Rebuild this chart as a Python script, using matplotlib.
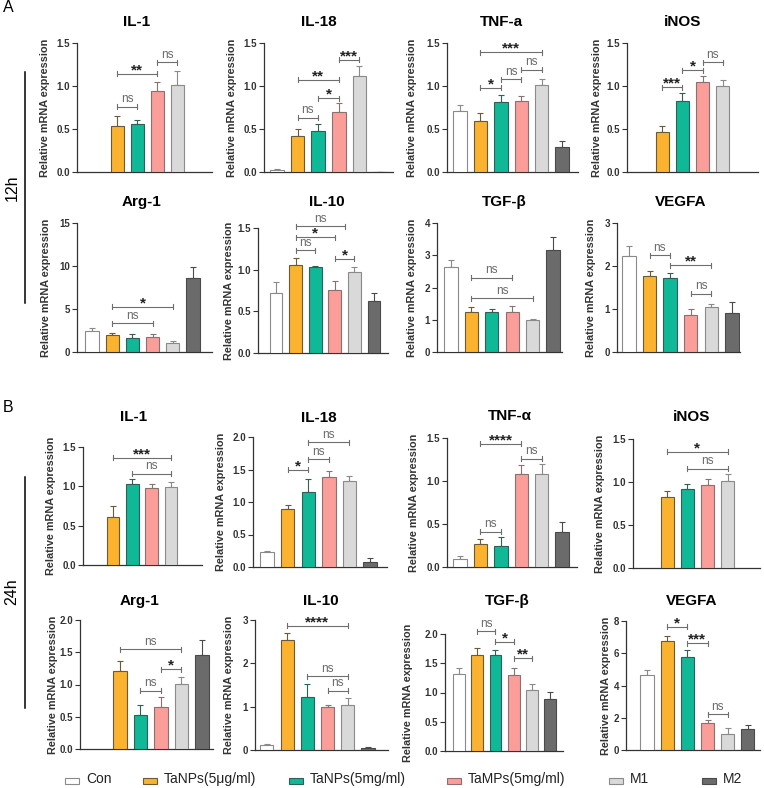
import matplotlib
matplotlib.use('Agg')
import matplotlib.pyplot as plt
from matplotlib.patches import Rectangle
from matplotlib.lines import Line2D
import numpy as np

plt.rcParams['font.family'] = ['Liberation Sans', 'DejaVu Sans']

W, H = 764, 788
nan = np.nan

groups = ['Con', 'TaNPs(5μg/ml)', 'TaNPs(5mg/ml)', 'TaMPs(5mg/ml)', 'M1', 'M2']
colors = ['#ffffff', '#fbb22f', '#0fb897', '#fb9e9a', '#d9d9d9', '#6b6b6b']
edges = ['#8a8a8a', '#6a5a36', '#2f5f55', '#8a7070', '#8a8a8a', '#4a4a4a']

# ---- 12h ----
a_il1_mean = [nan, 0.54, 0.56, 0.94, 1.01, nan]
a_il1_err = [0, 0.11, 0.05, 0.11, 0.17, 0]
a_il1_sig = [(1, 2, 0.756, 'ns'), (1, 3, 1.143, '**'), (3, 4, 1.279, 'ns')]

a_il18_mean = [0.02, 0.42, 0.48, 0.70, 1.12, 0.005]
a_il18_err = [0.01, 0.08, 0.08, 0.10, 0.11, 0]
a_il18_sig = [(1, 2, 0.628, 'ns'), (2, 3, 0.86, '*'), (1, 3, 1.07, '**'), (3, 4, 1.306, '***')]

a_tnf_mean = [0.71, 0.59, 0.81, 0.83, 1.01, 0.29]
a_tnf_err = [0.07, 0.10, 0.09, 0.05, 0.07, 0.07]
a_tnf_sig = [(1, 2, 0.977, '*'), (2, 3, 1.078, 'ns'), (3, 4, 1.19, 'ns'), (1, 4, 1.395, '***')]

a_inos_mean = [nan, 0.465, 0.83, 1.05, 1.00, nan]
a_inos_err = [0, 0.07, 0.09, 0.07, 0.07, 0]
a_inos_sig = [(1, 2, 0.988, '***'), (2, 3, 1.182, '*'), (3, 4, 1.279, 'ns')]

a_arg1_mean = [2.48, 1.94, 1.63, 1.71, 1.01, 8.60]
a_arg1_err = [0.27, 0.23, 0.46, 0.42, 0.23, 1.24]
a_arg1_sig = [(1, 3, 3.33, 'ns'), (1, 4, 5.27, '*')]

a_il10_mean = [0.716, 1.058, 1.029, 0.76, 0.969, 0.627]
a_il10_err = [0.133, 0.084, 0.02, 0.109, 0.065, 0.089]
a_il10_sig = [(3, 4, 1.13, '*'), (1, 2, 1.235, 'ns'), (1, 3, 1.39, '*'), (1, 3.5, 1.524, 'ns')]

a_tgf_mean = [2.625, 1.23, 1.24, 1.25, 0.99, 3.17]
a_tgf_err = [0.24, 0.18, 0.08, 0.19, 0.03, 0.41]
a_tgf_sig = [(1, 3, 2.295, 'ns'), (1, 4, 1.664, 'ns')]

a_vegfa_mean = [2.24, 1.767, 1.729, 0.853, 1.039, 0.915]
a_vegfa_err = [0.217, 0.109, 0.10, 0.147, 0.077, 0.248]
a_vegfa_sig = [(1, 2, 2.248, 'ns'), (2, 4, 2.016, '**'), (3, 4, 1.357, 'ns')]

# ---- 24h ----
b_il1_mean = [nan, 0.613, 1.027, 0.976, 0.997, nan]
b_il1_err = [0, 0.135, 0.067, 0.055, 0.055, 0]
b_il1_sig = [(2, 4, 1.162, 'ns'), (1, 4, 1.361, '***')]

b_il18_mean = [0.23, 0.888, 1.153, 1.378, 1.327, 0.082]
b_il18_err = [0.015, 0.071, 0.194, 0.096, 0.066, 0.051]
b_il18_sig = [(1, 2, 1.5, '*'), (2, 3, 1.658, 'ns'), (2, 4, 1.923, 'ns')]

b_tnf_mean = [0.097, 0.264, 0.248, 1.081, 1.081, 0.407]
b_tnf_err = [0.035, 0.065, 0.105, 0.101, 0.121, 0.116]
b_tnf_sig = [(1, 2, 0.411, 'ns'), (3, 4, 1.26, 'ns'), (1, 3, 1.434, '****')]

b_inos_mean = [nan, 0.823, 0.916, 0.963, 1.009, nan]
b_inos_err = [0, 0.07, 0.066, 0.077, 0.081, 0]
b_inos_sig = [(2, 4, 1.156, 'ns'), (1, 4, 1.353, '*')]

b_arg1_mean = [nan, 1.216, 0.526, 0.649, 1.005, 1.464]
b_arg1_err = [0, 0.145, 0.154, 0.15, 0.119, 0.227]
b_arg1_sig = [(2, 3, 0.902, 'ns'), (3, 4, 1.237, '*'), (1, 4, 1.546, 'ns')]

b_il10_mean = [0.115, 2.538, 1.215, 0.992, 1.046, 0.046]
b_il10_err = [0.015, 0.17, 0.30, 0.038, 0.146, 0.014]
b_il10_sig = [(3, 4, 1.362, 'ns'), (2, 4, 1.70, 'ns'), (1, 4, 2.869, '****')]

b_tgf_mean = [1.324, 1.633, 1.633, 1.301, 1.037, 0.883]
b_tgf_err = [0.097, 0.121, 0.092, 0.12, 0.103, 0.131]
b_tgf_sig = [(3, 4, 1.582, '**'), (2, 3, 1.868, '*'), (1, 2, 2.046, 'ns')]

b_vegfa_mean = [4.63, 6.76, 5.77, 1.674, 1.013, 1.302]
b_vegfa_err = [0.35, 0.29, 0.43, 0.186, 0.331, 0.228]
b_vegfa_sig = [(3, 4, 2.23, 'ns'), (2, 3, 6.615, '***'), (1, 2, 7.628, '*')]

t_15 = [0, 0.5, 1.0, 1.5]
t_20 = [0, 0.5, 1.0, 1.5, 2.0]

panels = [
    ('IL-1', a_il1_mean, a_il1_err, a_il1_sig, t_15),
    ('IL-18', a_il18_mean, a_il18_err, a_il18_sig, t_15),
    ('TNF-a', a_tnf_mean, a_tnf_err, a_tnf_sig, t_15),
    ('iNOS', a_inos_mean, a_inos_err, a_inos_sig, t_15),
    ('Arg-1', a_arg1_mean, a_arg1_err, a_arg1_sig, [0, 5, 10, 15]),
    ('IL-10', a_il10_mean, a_il10_err, a_il10_sig, t_15),
    ('TGF-β', a_tgf_mean, a_tgf_err, a_tgf_sig, [0, 1, 2, 3, 4]),
    ('VEGFA', a_vegfa_mean, a_vegfa_err, a_vegfa_sig, [0, 1, 2, 3]),
    ('IL-1', b_il1_mean, b_il1_err, b_il1_sig, t_15),
    ('IL-18', b_il18_mean, b_il18_err, b_il18_sig, t_20),
    ('TNF-α', b_tnf_mean, b_tnf_err, b_tnf_sig, t_15),
    ('iNOS', b_inos_mean, b_inos_err, b_inos_sig, t_15),
    ('Arg-1', b_arg1_mean, b_arg1_err, b_arg1_sig, t_20),
    ('IL-10', b_il10_mean, b_il10_err, b_il10_sig, [0, 1, 2, 3]),
    ('TGF-β', b_tgf_mean, b_tgf_err, b_tgf_sig, t_20),
    ('VEGFA', b_vegfa_mean, b_vegfa_err, b_vegfa_sig, [0, 2, 4, 6, 8]),
]

# layout in pixels: left, right, top, bottom, xlim, title x/y, ylabel x
layout = [
    (77, 212, 43, 172, (-1.0, 5.75), 137, 22, 50),
    (264, 393, 43, 172, (-0.63, 5.63), 319, 22, 237),
    (447, 578, 43, 172, (-0.64, 5.78), 501, 22, 417),
    (627, 758, 43, 172, (-0.74, 5.74), 683, 22, 602),
    (77, 212, 223, 352, (-0.74, 5.94), 141, 202, 51),
    (258, 388, 228, 353, (-0.92, 5.71), 327, 202, 234),
    (437, 562, 223, 352, (-0.69, 5.44), 504, 202, 417),
    (617, 740, 223, 352, (-0.58, 5.39), 681, 202, 596),
    (83, 202, 447, 565, (-0.57, 5.62), 134, 417, 56),
    (253, 387, 437, 567, (-0.68, 5.82), 319, 418, 226),
    (447, 577, 438, 567, (-0.64, 5.73), 510, 416, 419),
    (633, 760, 439, 568, (-0.69, 5.6), 692, 417, 605),
    (80, 213, 620, 749, (-0.95, 5.54), 139, 601, 58),
    (255, 388, 620, 750, (-0.59, 5.99), 321, 601, 234),
    (445, 563, 634, 751, (-0.77, 5.71), 507, 601, 413),
    (626, 760, 621, 750, (-1.04, 5.6), 692, 601, 611),
]

fig = plt.figure(figsize=(W / 100, H / 100), dpi=100)

for (title, mean, err, sig, ticks), (l, r, t, b, xl, tx, ty, lx) in zip(panels, layout):
    ax = fig.add_axes([l / W, 1 - b / H, (r - l) / W, (b - t) / H])
    ymax = ticks[-1]
    px = ymax / (b - t)  # data units per pixel
    for i, (mv, ev) in enumerate(zip(mean, err)):
        if np.isnan(mv):
            continue
        ax.errorbar([i], [mv], yerr=[[0], [ev]], fmt='none', ecolor=edges[i],
                    elinewidth=0.8, capsize=2.5, capthick=0.8, zorder=2)
        ax.bar([i], [mv], width=0.65, color=colors[i], edgecolor=edges[i],
               linewidth=0.8, zorder=3)

    for i, j, y, lab in sig:
        lc = '#6e6e6e'
        ax.plot([i, j], [y, y], color=lc, lw=0.8, clip_on=False, zorder=4)
        for xx in (i, j):
            ax.plot([xx, xx], [y - 2.5 * px, y + 2.5 * px], color=lc, lw=0.8, clip_on=False, zorder=4)
        if lab == 'ns':
            ax.text((i + j) / 2, y + 4.5 * px, lab, ha='center', va='baseline', fontsize=8.5,
                    color='#6a6a6a', clip_on=False)
        else:
            ax.text((i + j) / 2, y - 0.5 * px, lab, ha='center', va='baseline', fontsize=11,
                    fontweight='bold', color='#222222', clip_on=False)

    ax.set_xlim(*xl)
    ax.set_ylim(0, ymax)
    ax.set_yticks(ticks)
    if isinstance(ticks[1], float):
        ax.set_yticklabels([f'{v:.1f}' for v in ticks])
    else:
        ax.set_yticklabels([str(v) for v in ticks])
    ax.set_xticks([])
    for s in ('top', 'right'):
        ax.spines[s].set_visible(False)
    for s in ('left', 'bottom'):
        ax.spines[s].set_color('#333333')
        ax.spines[s].set_linewidth(0.9)
    ax.tick_params(axis='y', length=3.5, width=0.8, pad=1.5, labelsize=7, colors='#333333')
    for lbl in ax.get_yticklabels():
        lbl.set_fontweight('bold')
    ax.set_ylabel('Relative mRNA expression', fontsize=7.8, fontweight='bold', color='#333333')
    ax.yaxis.set_label_coords((lx - l) / (r - l), 0.5)
    fig.text(tx / W, 1 - ty / H, title, ha='center', va='center', fontsize=11, fontweight='bold')

# panel letters and time labels
fig.text(8 / W, 1 - 8 / H, 'A', ha='center', va='center', fontsize=11.5)
fig.text(8 / W, 1 - 407 / H, 'B', ha='center', va='center', fontsize=11.5)
fig.text(12 / W, 1 - 188 / H, '12h', ha='center', va='center', rotation=90, fontsize=11.5)
fig.text(12 / W, 1 - 592 / H, '24h', ha='center', va='center', rotation=90, fontsize=11.5)
fig.add_artist(Line2D([25 / W, 25 / W], [1 - 72 / H, 1 - 303 / H], color='black', lw=1.1))
fig.add_artist(Line2D([25 / W, 25 / W], [1 - 477 / H, 1 - 708 / H], color='black', lw=1.1))

# legend
leg_x = [65, 143, 289, 447, 609, 702]
for k, g in enumerate(groups):
    fig.add_artist(Rectangle((leg_x[k] / W, 1 - 784 / H), 14 / W, 6 / H,
                             facecolor=colors[k], edgecolor=edges[k], lw=0.8))
    fig.text((leg_x[k] + 21) / W, 1 - 779 / H, g, ha='left', va='center', fontsize=10, color='#222222')

fig.savefig('out.png', dpi=100)
